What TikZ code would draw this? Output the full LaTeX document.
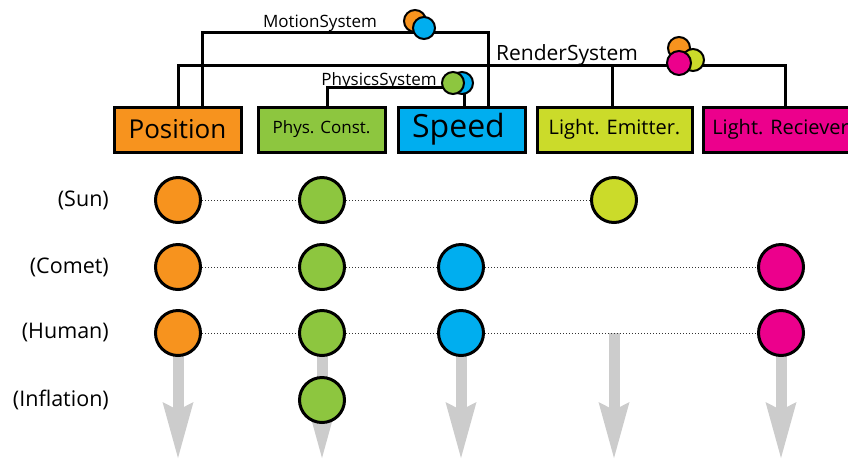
\documentclass[tikz,border=0pt]{standalone}
\usepackage{fontspec}
\setmainfont{Open Sans}
\usetikzlibrary{arrows.meta,backgrounds}

\definecolor{cpos}{HTML}{F7931E}
\definecolor{cphys}{HTML}{8DC63F}
\definecolor{cspeed}{HTML}{00AEEF}
\definecolor{cemit}{HTML}{CBDB2A}
\definecolor{crecv}{HTML}{EC008C}
\definecolor{cflow}{HTML}{CCCCCC}

\newcommand{\fs}[1]{\fontsize{#1}{#1}\selectfont}

\tikzset{
  comp/.style={draw=black, line width=3pt, minimum height=45pt, inner sep=0pt},
  sys/.style={draw=black, line width=3pt},
  syslabel/.style={anchor=base, inner sep=0pt, font=\fs{17}},
  hub/.style={circle, draw=black, line width=2pt, minimum size=22pt, inner sep=0pt},
  ent/.style={circle, draw=black, line width=3pt, minimum size=45pt, inner sep=0pt},
  rowlabel/.style={anchor=east, inner sep=0pt, font=\fs{21.5}},
  link/.style={draw=black!80, line width=1pt, dash pattern=on 1pt off 2pt},
  flow/.style={draw=cflow, line width=11pt,
    -{Stealth[length=56pt, width=31pt, inset=8pt, line width=0pt]}},
}

\begin{document}
\begin{tikzpicture}[x=1pt, y=-1pt]
\useasboundingbox (0,0) rectangle (848,459);

% component boxes
\node[comp, fill=cpos,   minimum width=127pt, font=\fs{26}] (pos)   at (177.5,129.5) {Position};
\node[comp, fill=cphys,  minimum width=127pt, font=\fs{17}] (phys) at (321.5,129.5) {Phys. Const.};
\node[comp, fill=cspeed, minimum width=127pt, font=\fs{32}] (speed) at (461.5,129.5) {\hspace*{-6pt}Speed};
\node[comp, fill=cemit,  minimum width=155pt, font=\fs{20}] (emit) at (614.5,129.5) {Light. Emitter.};
\node[comp, fill=crecv,  minimum width=155pt, font=\fs{20}] (recv) at (780.5,129.5) {Light. Reciever};

% system wiring
\coordinate (m1) at (202,32);
\coordinate (m2) at (488,32);
\coordinate (r1) at (178,65);
\coordinate (r2) at (785,65);
\coordinate (r3) at (612,65);
\coordinate (p1) at (327,87);
\coordinate (p2) at (448,87);
\coordinate (p3) at (464,92);

\draw[sys] (pos.north -| m1) |- (m2) -- (speed.north -| m2);
\draw[sys] (pos.north -| r1) |- (r2) -- (recv.north -| r2);
\draw[sys] (emit.north -| r3) -- (r3);
\draw[sys] (phys.north -| p1) |- (p2);
\draw[sys] (p3) -- (speed.north -| p3);

% system labels
\node[syslabel] (lmotion)  at (320,27) {MotionSystem};
\node[syslabel] (lphysics) at (379,85) {PhysicsSystem};
\node[syslabel, font=\fs{21}] (lrender) at (567,60) {RenderSystem};

% system hubs
\node[hub, fill=cpos]   (mh1) at (415,21) {};
\node[hub, fill=cspeed] (mh2) at (424,28) {};

\node[hub, fill=cpos]   (rh1) at (679,48) {};
\node[hub, fill=cemit]  (rh2) at (693,60) {};
\node[hub, fill=crecv, minimum size=24pt] (rh3) at (679,63) {};

\node[hub, fill=cspeed] (ph2) at (462,83) {};
\node[hub, fill=cphys]  (ph1) at (453,83) {};

% row labels
\node[rowlabel] (lsun)   at (109,200) {(Sun)};
\node[rowlabel] (lcomet) at (109,267) {(Comet)};
\node[rowlabel] (lhuman) at (109,333) {(Human)};
\node[rowlabel] (linfl)  at (109,400) {(Inflation)};

% entities
\node[ent, fill=cpos]  (s1) at (178,200) {};
\node[ent, fill=cphys] (s2) at (322,200) {};
\node[ent, fill=cemit] (s3) at (614,200) {};

\node[ent, fill=cpos]   (c1) at (178,267) {};
\node[ent, fill=cphys]  (c2) at (322,267) {};
\node[ent, fill=cspeed] (c3) at (461,267) {};
\node[ent, fill=crecv]  (c4) at (781,267) {};

\node[ent, fill=cpos]   (h1) at (178,333) {};
\node[ent, fill=cphys]  (h2) at (322,333) {};
\node[ent, fill=cspeed] (h3) at (461,333) {};
\node[ent, fill=crecv]  (h4) at (781,333) {};

\node[ent, fill=cphys] (i2) at (322,400) {};

% entity links
\draw[link] (s1) -- (s2) -- (s3);
\draw[link] (c1) -- (c2) -- (c3) -- (c4);
\draw[link] (h1) -- (h2) -- (h3) -- (h4);

% flow arrows
\coordinate (bot) at (0,458);
\coordinate (hemit) at (614,333);
\begin{scope}[on background layer]
  \draw[flow] (h1.center) -- (h1 |- bot);
  \draw[flow] (h2.center) -- (h2 |- bot);
  \draw[flow] (h3.center) -- (h3 |- bot);
  \draw[flow] (hemit) -- (hemit |- bot);
  \draw[flow] (h4.center) -- (h4 |- bot);
\end{scope}
\end{tikzpicture}
\end{document}
